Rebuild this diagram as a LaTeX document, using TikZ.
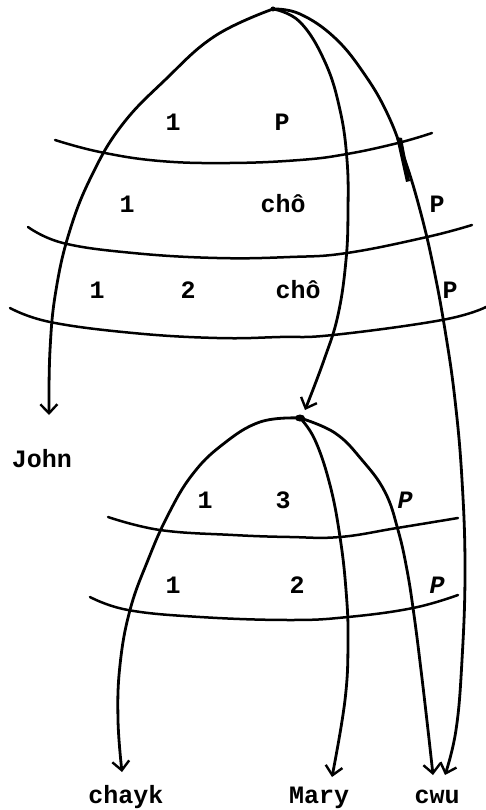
\documentclass[tikz,border=0pt]{standalone}
\usepackage{fontspec}
\setmainfont{Liberation Mono}
\usetikzlibrary{arrows.meta,calc}
\begin{document}
\begin{tikzpicture}[x=1pt,y=-1pt,
  curve/.style={line width=2.8pt, line cap=round, line join=round},
  band/.style={line width=2.5pt, line cap=round, line join=round},
  arr/.style={-{Straight Barb[length=9pt,width=17pt,line width=2.4pt]}},
  lbl/.style={anchor=base, inner sep=0pt, font=\fontsize{25}{25}\selectfont\bfseries},
  slbl/.style={lbl, font=\fontsize{25}{25}\selectfont\bfseries\itshape}]
\useasboundingbox (0,0) rectangle (486,810);

% apexes
\coordinate (A) at (273,9);
\coordinate (B) at (300,418);

% labels, upper block
\node[lbl] (u11) at (173,131) {1};
\node[lbl] (u1p) at (282,131) {P};
\node[lbl] (u21) at (127,213) {1};
\node[lbl] (u2c) at (283,213) {chô};
\node[lbl] (u2p) at (437,213) {P};
\node[lbl] (u31) at (97,298) {1};
\node[lbl] (u32) at (188,298) {2};
\node[lbl] (u3c) at (298,298) {chô};
\node[lbl] (u3p) at (450,298) {P};
% labels, lower block
\node[lbl] (l11) at (205,508) {1};
\node[lbl] (l13) at (283,508) {3};
\node[slbl] (l1p) at (405,508) {P};
\node[lbl] (l21) at (173,593) {1};
\node[lbl] (l22) at (297,593) {2};
\node[slbl] (l2p) at (437,593) {P};
% words
\node[lbl] (John) at (42,467) {John};
\node[lbl] (chayk) at (126,803) {chayk};
\node[lbl] (Mary) at (319,803) {Mary};
\node[lbl] (cwu) at (437,803) {cwu};

% arrow targets just above the words
\coordinate (tJohn) at ($(John.base)+(7,-52)$);
\coordinate (tchayk) at ($(chayk.base)+(-4,-31)$);
\coordinate (tMary) at ($(Mary.base)+(13,-26)$);
\coordinate (tcwuA) at ($(cwu.base)+(-4,-28)$);
\coordinate (tcwuB) at ($(cwu.base)+(8,-28)$);
\coordinate (tB) at ($(B)+(5,-8)$);

% upper bands
\draw[band] plot[smooth,tension=0.7] coordinates {(55,140) (100,152) (160,161) (230,163) (300,160) (347,154) (398,143) (432,133)};
\draw[band] plot[smooth,tension=0.7] coordinates {(28,227) (63,243) (133,253) (217,258) (290,257) (347,253) (427,237) (472,225)};
\draw[band] plot[smooth,tension=0.7] coordinates {(10,308) (50,322) (133,333) (217,338) (280,337) (333,335) (442,320) (486,307)};
% lower bands
\draw[band] plot[smooth,tension=0.7] coordinates {(108,517) (160,530) (233,535) (290,537) (340,537) (397,528) (458,518)};
\draw[band] plot[smooth,tension=0.7] coordinates {(90,597) (128,610) (200,617) (290,620) (348,617) (413,608) (458,595)};

% upper tree
\draw[curve,arr] plot[smooth,tension=0.7] coordinates {(A) (215,36) (165,80) (122,125) (92,175) (70,230) (56,290) (50,350) (tJohn)};
\draw[curve,arr] plot[smooth,tension=0.7] coordinates {(A) (300,22) (325,62) (340,110) (347,160) (348,210) (346,260) (338,315) (324,360) (tB)};
\draw[curve,arr] plot[smooth,tension=0.7] coordinates {(A) (300,14) (335,38) (365,75) (388,115) (405,160) (420,210) (433,265) (445,330) (455,400) (462,480) (465,570) (462,660) (456,730) (tcwuB)};
\fill (396,137) -- (402,138) -- (410,181) -- (406,182) -- cycle;
\fill (A) circle (2.5pt);

% lower tree
\draw[curve,arr] plot[smooth,tension=0.7] coordinates {(B) (260,422) (222,445) (192,475) (168,515) (148,560) (130,610) (120,665) (118,720) (tchayk)};
\draw[curve,arr] plot[smooth,tension=0.7] coordinates {(B) (315,440) (330,485) (340,537) (346,590) (348,640) (345,700) (tMary)};
\draw[curve,arr] plot[smooth,tension=0.7] coordinates {(B) (335,433) (362,460) (385,492) (398,530) (407,570) (414,615) (421,670) (428,730) (tcwuA)};
\fill (B) ellipse (5pt and 3.5pt);
\end{tikzpicture}
\end{document}
